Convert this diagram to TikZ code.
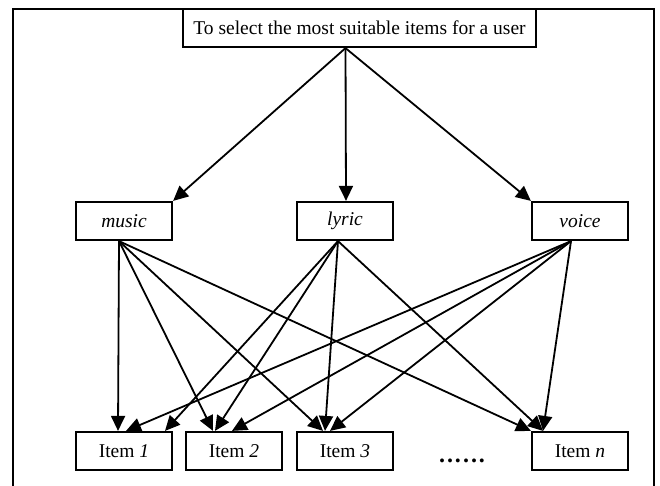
\documentclass[tikz,border=0pt]{standalone}
\usepackage{fontspec}
\setmainfont{Liberation Serif}
\usetikzlibrary{arrows.meta}

\tikzset{
  box/.style={draw, line width=2.2pt, fill=white, minimum width=96pt, minimum height=38pt, inner sep=0pt},
  edge/.style={line width=1.8pt, -{Triangle[length=15pt,width=14pt]}}
}

\begin{document}
\begin{tikzpicture}[x=1pt,y=-1pt]
\fontsize{19.5}{23}\selectfont
\useasboundingbox (0,0) rectangle (660,486);
\draw[line width=1.8pt] (13,486) -- (13,9) -- (654,9) -- (654,486); % outer frame

\node[box, minimum width=353pt] (goal) at (359.5,28) {To select the most suitable items for a user};

% criteria
\node[box] (music) at (124,221) {\textit{music}};
\node[box] (lyric) at (345,221) {\textit{lyric}};
\node[box] (voice) at (580,221) {\textit{voice}};

% alternatives
\node[box] (i1) at (124,451) {Item \textit{1}};
\node[box] (i2) at (234,451) {Item \textit{2}};
\node[box] (i3) at (345,451) {Item \textit{3}};
\node[box] (iN) at (580,451) {Item \textit{n}};
\node[font=\fontsize{24}{26}\selectfont\bfseries] (dots) at (462,461) {.\kern2pt.\kern2pt.\kern2pt.\kern2pt.\kern2pt.};

\draw[edge] ([xshift=-14pt]goal.south) -- (music.north east);
\draw[edge] ([xshift=-14pt]goal.south) -- ([xshift=1pt]lyric.north);
\draw[edge] ([xshift=-14pt]goal.south) -- (voice.north west);

\draw[edge] ([xshift=-5pt]music.south) -- ([xshift=-6pt]i1.north);
\draw[edge] ([xshift=-5pt]music.south) -- ([xshift=-21pt]i2.north);
\draw[edge] ([xshift=-5pt]music.south) -- ([xshift=-22pt]i3.north);
\draw[edge] ([xshift=-5pt]music.south) -- (iN.north west);

\draw[edge] ([xshift=-7pt]lyric.south) -- ([xshift=41pt]i1.north);
\draw[edge] ([xshift=-7pt]lyric.south) -- ([xshift=-19pt]i2.north);
\draw[edge] ([xshift=-7pt]lyric.south) -- ([xshift=-20pt]i3.north);
\draw[edge] ([xshift=-7pt]lyric.south) -- ([xshift=-37pt]iN.north);

\draw[edge] ([xshift=-9pt]voice.south) -- ([xshift=2pt]i1.north);
\draw[edge] ([xshift=-9pt]voice.south) -- ([xshift=-2pt]i2.north);
\draw[edge] ([xshift=-9pt]voice.south) -- ([xshift=-15pt]i3.north);
\draw[edge] ([xshift=-9pt]voice.south) -- ([xshift=-37pt]iN.north);
\end{tikzpicture}
\end{document}
